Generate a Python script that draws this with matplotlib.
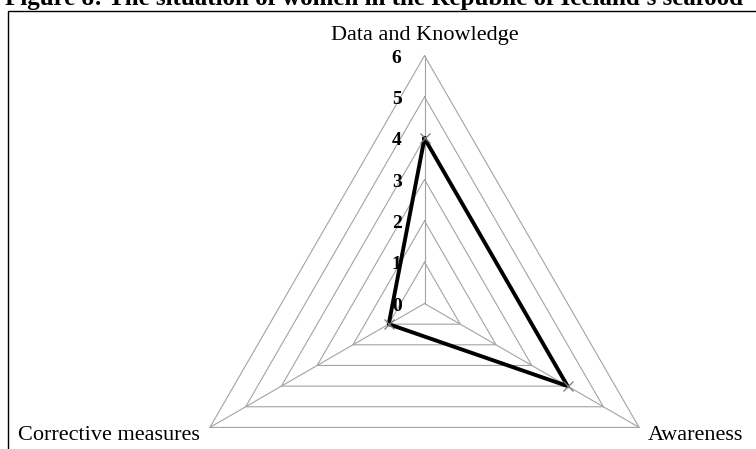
import numpy as np
import matplotlib
matplotlib.use("Agg")
import matplotlib.pyplot as plt
from matplotlib.patches import Rectangle

# data
categories = ["Data and Knowledge", "Awareness", "Corrective measures"]
values = [4, 4, 1]
levels = [0, 1, 2, 3, 4, 5, 6]
title = "Figure 8: The situation of women in the Republic of Iceland's seafood"

plt.rcParams["font.family"] = ["Liberation Serif", "DejaVu Serif"]

W, H = 756, 449
fig = plt.figure(figsize=(W / 100, H / 100), dpi=100)

# polar axes placed so that the centre sits at (424.5, 303.5) px, r=6 -> 247.8 px
cx, cy, R = 424.5, 303.5, 247.8
ax = fig.add_axes([(cx - R) / W, (H - cy - R) / H, 2 * R / W, 2 * R / H], projection="polar")
ax.set_theta_offset(np.pi / 2)
ax.set_theta_direction(-1)
ax.set_ylim(0, levels[-1])
ax.axis("off")

n = len(categories)
theta = np.arange(n) * 2 * np.pi / n
theta_closed = np.append(theta, theta[0])

grey = "#a3a3a3"
for lv in levels[1:]:
    ax.plot(theta_closed, [lv] * (n + 1), color=grey, lw=0.8, clip_on=False, zorder=1)
for t in theta:
    ax.plot([t, t], [0, levels[-1]], color=grey, lw=0.8, clip_on=False, zorder=1)

vals = np.append(values, values[0])
ax.plot(theta_closed, vals, color="black", lw=2.8, clip_on=False, zorder=3)
ax.plot(theta, values, ls="none", marker="x", ms=7, mew=0.9, color="#7a7a7a",
        clip_on=False, zorder=4)

# radial tick labels along the top spoke
for lv in levels:
    ax.annotate(str(lv), xy=(0, lv), xytext=(-16.5, -0.5), textcoords="offset points",
                ha="right", va="center_baseline", fontsize=14, fontweight="bold",
                annotation_clip=False)

# category labels
ax.annotate(categories[0], xy=(theta[0], levels[-1]), xytext=(0, 11),
            textcoords="offset points", ha="center", va="baseline", fontsize=16,
            annotation_clip=False)
ax.annotate(categories[1], xy=(theta[1], levels[-1]), xytext=(6.5, -9),
            textcoords="offset points", ha="left", va="baseline", fontsize=16,
            annotation_clip=False)
ax.annotate(categories[2], xy=(theta[2], levels[-1]), xytext=(-7, -9),
            textcoords="offset points", ha="right", va="baseline", fontsize=16,
            annotation_clip=False)

# frame around the chart area (runs off the right and bottom edges)
fig.patches.append(Rectangle((8 / W, -0.05), 1.2, 1.05 - 11 / H, transform=fig.transFigure,
                             fill=False, ec="black", lw=1.0))

fig.text(5 / W, 1 - 5 / H, title, ha="left", va="baseline", fontsize=18,
         fontweight="bold")

fig.savefig("out.png", dpi=100)
